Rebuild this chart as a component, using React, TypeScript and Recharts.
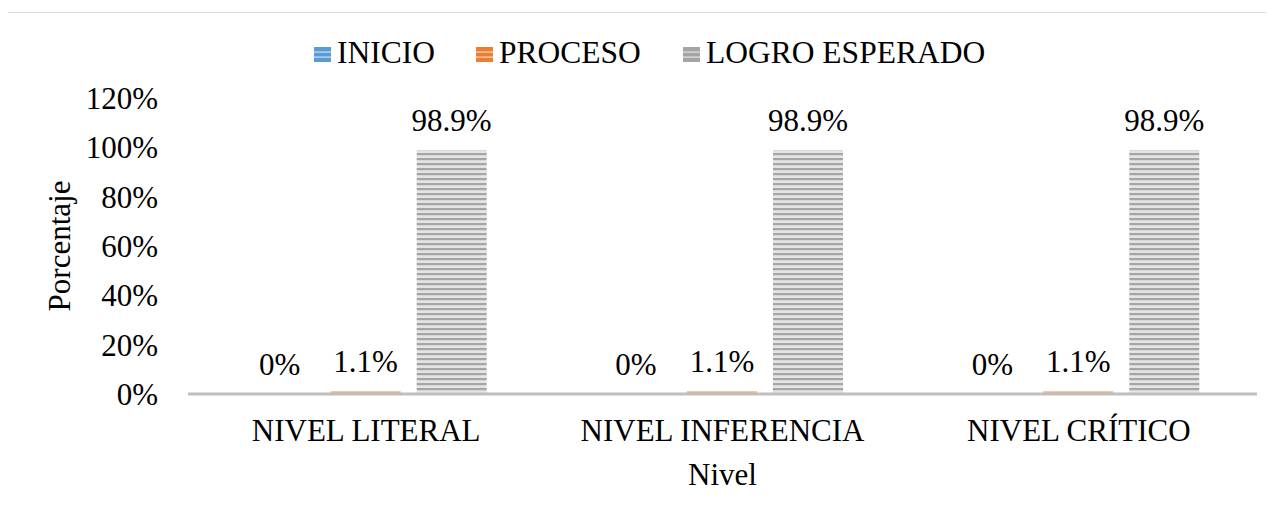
import { BarChart, Bar, XAxis, YAxis, Legend, LabelList } from "recharts";

const categories = ["NIVEL LITERAL", "NIVEL INFERENCIA", "NIVEL CRÍTICO"];
const inicio = [0, 0, 0];
const proceso = [1.1, 1.1, 1.1];
const logroEsperado = [98.9, 98.9, 98.9];
const yTicks = [0, 20, 40, 60, 80, 100, 120];

const seriesInfo = [
  { key: "inicio", name: "INICIO", color: "#5b9bd5", light: "#9dc3e6" },
  { key: "proceso", name: "PROCESO", color: "#ed7d31", light: "#f4b183" },
  { key: "logro", name: "LOGRO ESPERADO", color: "#a5a5a5", light: "#e4e4e4" },
];

const data = categories.map((cat, i) => ({
  nivel: cat,
  inicio: inicio[i],
  proceso: proceso[i],
  logro: logroEsperado[i],
}));

const FONT = "Liberation Serif, Times New Roman, serif";
const FS = 31;

// legend item x offsets (marker start) inside the legend svg
const legendX = [0, 162, 369];

function LegendBox() {
  return (
    <svg width={690} height={40} style={{ display: "block", overflow: "visible" }}>
      {seriesInfo.map((s, i) => (
        <g key={s.key} transform={`translate(${legendX[i]},0)`}>
          <rect x={0} y={14} width={17} height={15} fill={s.color} />
          <rect x={0} y={18.5} width={17} height={1.2} fill="#ffffff" opacity={0.7} />
          <rect x={0} y={23.5} width={17} height={1.2} fill="#ffffff" opacity={0.7} />
          <text x={23} y={30} fontSize={31.5} fontFamily={FONT} fill="#000">
            {s.name}
          </text>
        </g>
      ))}
    </svg>
  );
}

function XTick(props: any) {
  const { x, y, payload } = props;
  return (
    <text x={x} y={y + 22} textAnchor="middle" fill="#000" fontSize={FS} fontFamily={FONT}>
      {payload.value}
    </text>
  );
}

function YTick(props: any) {
  const { x, y, payload } = props;
  return (
    <text x={x} y={y + 11} textAnchor="end" fill="#000" fontSize={FS} fontFamily={FONT}>
      {`${payload.value}%`}
    </text>
  );
}

function TopLabel(props: any) {
  const { x, y, width, value } = props;
  return (
    <text
      x={x + width / 2}
      y={y - 19}
      textAnchor="middle"
      fill="#000"
      fontSize={FS}
      fontFamily={FONT}
    >
      {`${value}%`}
    </text>
  );
}

export default function App() {
  return (
    <div
      style={{
        position: "relative",
        left: -1,
        top: 4,
        width: 1266,
        height: 505,
        borderTop: "1px solid #d9d9d9",
        borderLeft: "1px solid #d9d9d9",
        background: "#fff",
      }}
    >
      <BarChart
        width={1266}
        height={505}
        data={data}
        margin={{ top: 45, right: 17, bottom: 0, left: 0 }}
        barCategoryGap="15.9%"
        barGap={16}
      >
        <defs>
          {seriesInfo.map((s) => (
            <pattern
              key={s.key}
              id={`stripes-${s.key}`}
              patternUnits="userSpaceOnUse"
              width={8}
              height={5}
            >
              <rect x={0} y={0} width={8} height={5} fill={s.light} />
              <rect x={0} y={0} width={8} height={2.2} fill={s.color} />
            </pattern>
          ))}
        </defs>
        <Legend
          verticalAlign="top"
          align="left"
          wrapperStyle={{ top: 20, left: 306, width: "auto" }}
          content={() => <LegendBox />}
        />
        <XAxis
          dataKey="nivel"
          height={124}
          tickLine={false}
          tickSize={0}
          tickMargin={25}
          axisLine={{ stroke: "#bfbfbf", strokeWidth: 3 }}
          tick={<XTick />}
          label={{
            content: (props: any) => {
              const vb = props.viewBox || {};
              return (
                <text
                  x={vb.x + vb.width / 2}
                  y={472}
                  textAnchor="middle"
                  fill="#000"
                  fontSize={FS}
                  fontFamily={FONT}
                >
                  Nivel
                </text>
              );
            },
          }}
        />
        <YAxis
          width={180}
          domain={[0, 120]}
          ticks={yTicks}
          interval={0}
          tickLine={false}
          axisLine={false}
          tickSize={0}
          tickMargin={30}
          tick={<YTick />}
          label={{
            content: (props: any) => {
              const vb = props.viewBox || {};
              const cy = vb.y + vb.height / 2;
              return (
                <text
                  x={62}
                  y={cy}
                  transform={`rotate(-90, 62, ${cy})`}
                  textAnchor="middle"
                  fill="#000"
                  fontSize={FS}
                  fontFamily={FONT}
                >
                  Porcentaje
                </text>
              );
            },
          }}
        />
        {seriesInfo.map((s) => (
          <Bar
            key={s.key}
            dataKey={s.key}
            name={s.name}
            fill={`url(#stripes-${s.key})`}
            minPointSize={0.01}
            isAnimationActive={false}
          >
            <LabelList dataKey={s.key} content={<TopLabel />} />
          </Bar>
        ))}
      </BarChart>
    </div>
  );
}
